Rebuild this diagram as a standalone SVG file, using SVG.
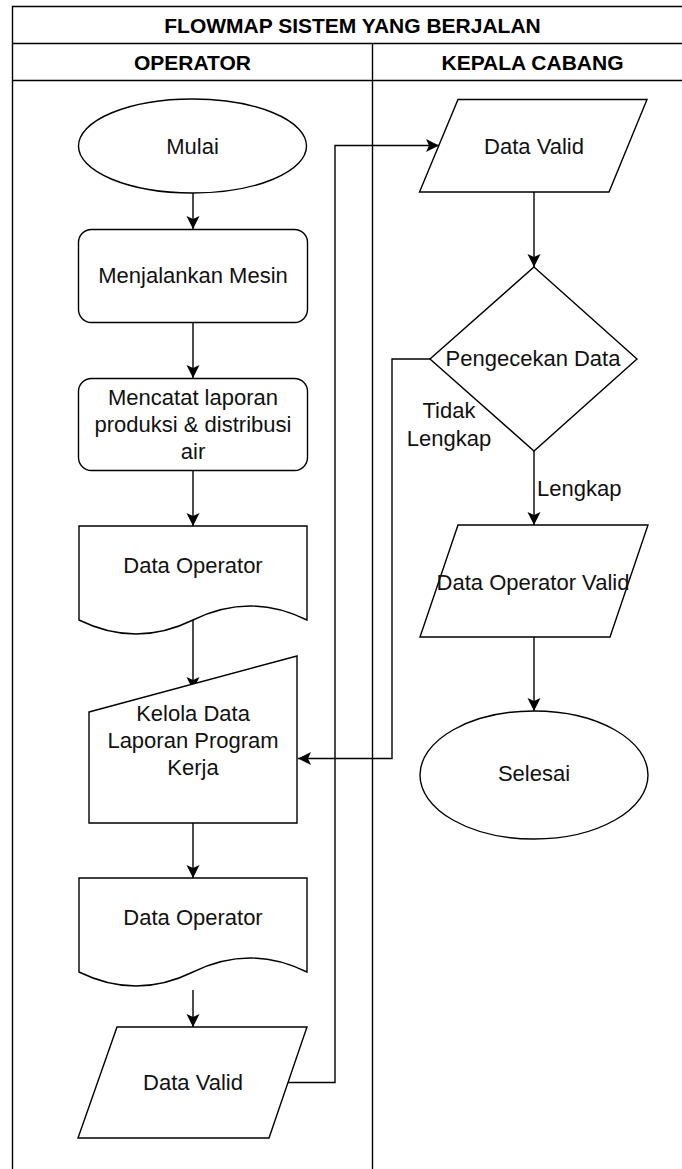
<svg xmlns="http://www.w3.org/2000/svg" width="682" height="1169" viewBox="0 0 682 1169">
  <style>
    .shape { fill: #ffffff; stroke: #000000; stroke-width: 1.4; }
    .lane { fill: none; stroke: #000000; stroke-width: 1.4; }
    .edge { fill: none; stroke: #000000; stroke-width: 1.4; }
    .label { font-family: "Liberation Sans", Arial, sans-serif; font-size: 22px; fill: #111111; text-anchor: middle; }
    .head { font-family: "Liberation Sans", Arial, sans-serif; font-size: 21px; font-weight: bold; fill: #000000; text-anchor: middle; }
  </style>
  <defs>
    <marker id="arrow" markerWidth="14" markerHeight="14" viewBox="-14 -7 14 14" refX="0" refY="0" orient="auto" markerUnits="userSpaceOnUse">
      <path d="M0,0 L-13,-6.5 L-10,0 L-13,6.5 Z" fill="#000000"/>
    </marker>
  </defs>

  <rect width="682" height="1169" fill="#ffffff"/>

  <!-- swimlane frame -->
  <g id="pool">
    <path class="lane" d="M12.5,1175 V6.5 H700"/>
    <line class="lane" x1="12.5" y1="43.5" x2="700" y2="43.5"/>
    <line class="lane" x1="12.5" y1="80.5" x2="700" y2="80.5"/>
    <line class="lane" x1="372.5" y1="43.5" x2="372.5" y2="1175"/>
    <text class="head" x="352.5" y="33">FLOWMAP SISTEM YANG BERJALAN</text>
    <text class="head" x="192.5" y="70">OPERATOR</text>
    <text class="head" x="532.5" y="70">KEPALA CABANG</text>
  </g>

  <!-- connectors -->
  <g id="connectors">
    <line class="edge" x1="193" y1="193" x2="193" y2="229" marker-end="url(#arrow)"/>
    <line class="edge" x1="193" y1="323" x2="193" y2="378" marker-end="url(#arrow)"/>
    <line class="edge" x1="193" y1="471" x2="193" y2="526" marker-end="url(#arrow)"/>
    <line class="edge" x1="193" y1="620" x2="193" y2="690" marker-end="url(#arrow)"/>
    <line class="edge" x1="193" y1="823" x2="193" y2="878" marker-end="url(#arrow)"/>
    <line class="edge" x1="193" y1="990" x2="193" y2="1027" marker-end="url(#arrow)"/>
    <path class="edge" d="M288,1082.5 H335 V145.5 H439" marker-end="url(#arrow)"/>
    <line class="edge" x1="534" y1="192" x2="534" y2="267" marker-end="url(#arrow)"/>
    <path class="edge" d="M430,359 H392 V758.5 H298" marker-end="url(#arrow)"/>
    <line class="edge" x1="534" y1="451" x2="534" y2="525" marker-end="url(#arrow)"/>
    <line class="edge" x1="534" y1="637" x2="534" y2="711" marker-end="url(#arrow)"/>
    <text class="label" x="449" y="418">Tidak</text>
    <text class="label" x="449" y="446">Lengkap</text>
    <text class="label" x="537" y="496" style="text-anchor:start">Lengkap</text>
  </g>

  <g id="mulai">
    <ellipse class="shape" cx="192.5" cy="146" rx="114" ry="47"/>
    <text class="label" x="192.5" y="154">Mulai</text>
  </g>

  <g id="menjalankan-mesin">
    <rect class="shape" x="78.5" y="229.5" width="229" height="93" rx="13"/>
    <text class="label" x="193" y="283">Menjalankan Mesin</text>
  </g>

  <g id="mencatat-laporan">
    <rect class="shape" x="78.5" y="378.5" width="229" height="92" rx="13"/>
    <text class="label" x="193" y="405">Mencatat laporan</text>
    <text class="label" x="193" y="432">produksi &amp; distribusi</text>
    <text class="label" x="193" y="459">air</text>
  </g>

  <g id="data-operator-1">
    <path class="shape" d="M79,526 H307 V620 Q250,592 193,620 Q136,648 79,620 Z"/>
    <text class="label" x="193" y="573">Data Operator</text>
  </g>

  <g id="kelola-data">
    <path class="shape" d="M89,712 L297,656 V823 H89 Z"/>
    <text class="label" x="193" y="721">Kelola Data</text>
    <text class="label" x="193" y="748">Laporan Program</text>
    <text class="label" x="193" y="775">Kerja</text>
  </g>

  <g id="data-operator-2">
    <path class="shape" d="M79,878 H307 V972 Q250,944 193,972 Q136,1000 79,972 Z"/>
    <text class="label" x="193" y="925">Data Operator</text>
  </g>

  <g id="data-valid-operator">
    <path class="shape" d="M117,1027 H307 L269,1138 H78 Z"/>
    <text class="label" x="193" y="1090">Data Valid</text>
  </g>

  <g id="data-valid-kepala">
    <path class="shape" d="M458,99.5 H647 L609,192 H419.5 Z"/>
    <text class="label" x="534" y="153.5">Data Valid</text>
  </g>

  <g id="pengecekan-data">
    <path class="shape" d="M534,267 L637,359 L534,451 L430,359 Z"/>
    <text class="label" x="533" y="366">Pengecekan Data</text>
  </g>

  <g id="data-operator-valid">
    <path class="shape" d="M458,525 H648 L610,637 H420 Z"/>
    <text class="label" x="533" y="590">Data Operator Valid</text>
  </g>

  <g id="selesai">
    <ellipse class="shape" cx="534" cy="775" rx="114" ry="64"/>
    <text class="label" x="534" y="781">Selesai</text>
  </g>
</svg>
